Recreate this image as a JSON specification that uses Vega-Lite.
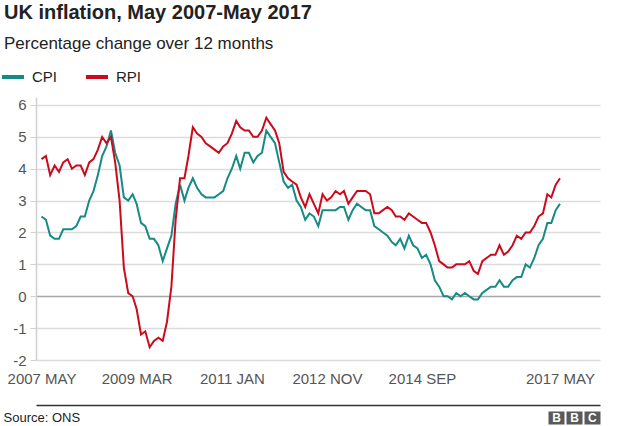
{
  "$schema": "https://vega.github.io/schema/vega-lite/v6.json",
  "autosize": "none",
  "padding": {"left": 36, "top": 97, "right": 24, "bottom": 66},
  "width": 564,
  "height": 263,
  "background": "white",
  "title": {
    "text": "UK inflation, May 2007-May 2017",
    "subtitle": "Percentage change over 12 months",
    "anchor": "start",
    "frame": "group",
    "dx": -32,
    "offset": 12,
    "fontSize": 20,
    "fontWeight": "bold",
    "color": "#222222",
    "subtitleFontSize": 17,
    "subtitleColor": "#222222",
    "subtitlePadding": 13
  },
  "data": {
    "values": [
      {"m": "2007-05-01", "CPI": 2.5, "RPI": 4.3},
      {"m": "2007-06-01", "CPI": 2.4, "RPI": 4.4},
      {"m": "2007-07-01", "CPI": 1.9, "RPI": 3.8},
      {"m": "2007-08-01", "CPI": 1.8, "RPI": 4.1},
      {"m": "2007-09-01", "CPI": 1.8, "RPI": 3.9},
      {"m": "2007-10-01", "CPI": 2.1, "RPI": 4.2},
      {"m": "2007-11-01", "CPI": 2.1, "RPI": 4.3},
      {"m": "2007-12-01", "CPI": 2.1, "RPI": 4.0},
      {"m": "2008-01-01", "CPI": 2.2, "RPI": 4.1},
      {"m": "2008-02-01", "CPI": 2.5, "RPI": 4.1},
      {"m": "2008-03-01", "CPI": 2.5, "RPI": 3.8},
      {"m": "2008-04-01", "CPI": 3.0, "RPI": 4.2},
      {"m": "2008-05-01", "CPI": 3.3, "RPI": 4.3},
      {"m": "2008-06-01", "CPI": 3.8, "RPI": 4.6},
      {"m": "2008-07-01", "CPI": 4.4, "RPI": 5.0},
      {"m": "2008-08-01", "CPI": 4.7, "RPI": 4.8},
      {"m": "2008-09-01", "CPI": 5.2, "RPI": 5.0},
      {"m": "2008-10-01", "CPI": 4.5, "RPI": 4.2},
      {"m": "2008-11-01", "CPI": 4.1, "RPI": 3.0},
      {"m": "2008-12-01", "CPI": 3.1, "RPI": 0.9},
      {"m": "2009-01-01", "CPI": 3.0, "RPI": 0.1},
      {"m": "2009-02-01", "CPI": 3.2, "RPI": 0.0},
      {"m": "2009-03-01", "CPI": 2.9, "RPI": -0.4},
      {"m": "2009-04-01", "CPI": 2.3, "RPI": -1.2},
      {"m": "2009-05-01", "CPI": 2.2, "RPI": -1.1},
      {"m": "2009-06-01", "CPI": 1.8, "RPI": -1.6},
      {"m": "2009-07-01", "CPI": 1.8, "RPI": -1.4},
      {"m": "2009-08-01", "CPI": 1.6, "RPI": -1.3},
      {"m": "2009-09-01", "CPI": 1.1, "RPI": -1.4},
      {"m": "2009-10-01", "CPI": 1.5, "RPI": -0.8},
      {"m": "2009-11-01", "CPI": 1.9, "RPI": 0.3},
      {"m": "2009-12-01", "CPI": 2.9, "RPI": 2.4},
      {"m": "2010-01-01", "CPI": 3.5, "RPI": 3.7},
      {"m": "2010-02-01", "CPI": 3.0, "RPI": 3.7},
      {"m": "2010-03-01", "CPI": 3.4, "RPI": 4.4},
      {"m": "2010-04-01", "CPI": 3.7, "RPI": 5.3},
      {"m": "2010-05-01", "CPI": 3.4, "RPI": 5.1},
      {"m": "2010-06-01", "CPI": 3.2, "RPI": 5.0},
      {"m": "2010-07-01", "CPI": 3.1, "RPI": 4.8},
      {"m": "2010-08-01", "CPI": 3.1, "RPI": 4.7},
      {"m": "2010-09-01", "CPI": 3.1, "RPI": 4.6},
      {"m": "2010-10-01", "CPI": 3.2, "RPI": 4.5},
      {"m": "2010-11-01", "CPI": 3.3, "RPI": 4.7},
      {"m": "2010-12-01", "CPI": 3.7, "RPI": 4.8},
      {"m": "2011-01-01", "CPI": 4.0, "RPI": 5.1},
      {"m": "2011-02-01", "CPI": 4.4, "RPI": 5.5},
      {"m": "2011-03-01", "CPI": 4.0, "RPI": 5.3},
      {"m": "2011-04-01", "CPI": 4.5, "RPI": 5.2},
      {"m": "2011-05-01", "CPI": 4.5, "RPI": 5.2},
      {"m": "2011-06-01", "CPI": 4.2, "RPI": 5.0},
      {"m": "2011-07-01", "CPI": 4.4, "RPI": 5.0},
      {"m": "2011-08-01", "CPI": 4.5, "RPI": 5.2},
      {"m": "2011-09-01", "CPI": 5.2, "RPI": 5.6},
      {"m": "2011-10-01", "CPI": 5.0, "RPI": 5.4},
      {"m": "2011-11-01", "CPI": 4.8, "RPI": 5.2},
      {"m": "2011-12-01", "CPI": 4.2, "RPI": 4.8},
      {"m": "2012-01-01", "CPI": 3.6, "RPI": 3.9},
      {"m": "2012-02-01", "CPI": 3.4, "RPI": 3.7},
      {"m": "2012-03-01", "CPI": 3.5, "RPI": 3.6},
      {"m": "2012-04-01", "CPI": 3.0, "RPI": 3.5},
      {"m": "2012-05-01", "CPI": 2.8, "RPI": 3.1},
      {"m": "2012-06-01", "CPI": 2.4, "RPI": 2.8},
      {"m": "2012-07-01", "CPI": 2.6, "RPI": 3.2},
      {"m": "2012-08-01", "CPI": 2.5, "RPI": 2.9},
      {"m": "2012-09-01", "CPI": 2.2, "RPI": 2.6},
      {"m": "2012-10-01", "CPI": 2.7, "RPI": 3.2},
      {"m": "2012-11-01", "CPI": 2.7, "RPI": 3.0},
      {"m": "2012-12-01", "CPI": 2.7, "RPI": 3.1},
      {"m": "2013-01-01", "CPI": 2.7, "RPI": 3.3},
      {"m": "2013-02-01", "CPI": 2.8, "RPI": 3.2},
      {"m": "2013-03-01", "CPI": 2.8, "RPI": 3.3},
      {"m": "2013-04-01", "CPI": 2.4, "RPI": 2.9},
      {"m": "2013-05-01", "CPI": 2.7, "RPI": 3.1},
      {"m": "2013-06-01", "CPI": 2.9, "RPI": 3.3},
      {"m": "2013-07-01", "CPI": 2.8, "RPI": 3.3},
      {"m": "2013-08-01", "CPI": 2.7, "RPI": 3.3},
      {"m": "2013-09-01", "CPI": 2.7, "RPI": 3.2},
      {"m": "2013-10-01", "CPI": 2.2, "RPI": 2.6},
      {"m": "2013-11-01", "CPI": 2.1, "RPI": 2.6},
      {"m": "2013-12-01", "CPI": 2.0, "RPI": 2.7},
      {"m": "2014-01-01", "CPI": 1.9, "RPI": 2.8},
      {"m": "2014-02-01", "CPI": 1.7, "RPI": 2.7},
      {"m": "2014-03-01", "CPI": 1.6, "RPI": 2.5},
      {"m": "2014-04-01", "CPI": 1.8, "RPI": 2.5},
      {"m": "2014-05-01", "CPI": 1.5, "RPI": 2.4},
      {"m": "2014-06-01", "CPI": 1.9, "RPI": 2.6},
      {"m": "2014-07-01", "CPI": 1.6, "RPI": 2.5},
      {"m": "2014-08-01", "CPI": 1.5, "RPI": 2.4},
      {"m": "2014-09-01", "CPI": 1.2, "RPI": 2.3},
      {"m": "2014-10-01", "CPI": 1.3, "RPI": 2.3},
      {"m": "2014-11-01", "CPI": 1.0, "RPI": 2.0},
      {"m": "2014-12-01", "CPI": 0.5, "RPI": 1.6},
      {"m": "2015-01-01", "CPI": 0.3, "RPI": 1.1},
      {"m": "2015-02-01", "CPI": 0.0, "RPI": 1.0},
      {"m": "2015-03-01", "CPI": 0.0, "RPI": 0.9},
      {"m": "2015-04-01", "CPI": -0.1, "RPI": 0.9},
      {"m": "2015-05-01", "CPI": 0.1, "RPI": 1.0},
      {"m": "2015-06-01", "CPI": 0.0, "RPI": 1.0},
      {"m": "2015-07-01", "CPI": 0.1, "RPI": 1.0},
      {"m": "2015-08-01", "CPI": 0.0, "RPI": 1.1},
      {"m": "2015-09-01", "CPI": -0.1, "RPI": 0.8},
      {"m": "2015-10-01", "CPI": -0.1, "RPI": 0.7},
      {"m": "2015-11-01", "CPI": 0.1, "RPI": 1.1},
      {"m": "2015-12-01", "CPI": 0.2, "RPI": 1.2},
      {"m": "2016-01-01", "CPI": 0.3, "RPI": 1.3},
      {"m": "2016-02-01", "CPI": 0.3, "RPI": 1.3},
      {"m": "2016-03-01", "CPI": 0.5, "RPI": 1.6},
      {"m": "2016-04-01", "CPI": 0.3, "RPI": 1.3},
      {"m": "2016-05-01", "CPI": 0.3, "RPI": 1.4},
      {"m": "2016-06-01", "CPI": 0.5, "RPI": 1.6},
      {"m": "2016-07-01", "CPI": 0.6, "RPI": 1.9},
      {"m": "2016-08-01", "CPI": 0.6, "RPI": 1.8},
      {"m": "2016-09-01", "CPI": 1.0, "RPI": 2.0},
      {"m": "2016-10-01", "CPI": 0.9, "RPI": 2.0},
      {"m": "2016-11-01", "CPI": 1.2, "RPI": 2.2},
      {"m": "2016-12-01", "CPI": 1.6, "RPI": 2.5},
      {"m": "2017-01-01", "CPI": 1.8, "RPI": 2.6},
      {"m": "2017-02-01", "CPI": 2.3, "RPI": 3.2},
      {"m": "2017-03-01", "CPI": 2.3, "RPI": 3.1},
      {"m": "2017-04-01", "CPI": 2.7, "RPI": 3.5},
      {"m": "2017-05-01", "CPI": 2.9, "RPI": 3.7}
    ]
  },
  "layer": [
    {
      "mark": {"type": "line", "strokeWidth": 2},
      "encoding": {
        "x": {
          "field": "m",
          "type": "temporal",
          "scale": {
            "type": "utc",
            "domain": [
              {"year": 2007, "month": "mar", "date": 23, "utc": true},
              {"year": 2018, "month": "feb", "date": 7, "utc": true}
            ]
          },
          "axis": {
            "orient": "bottom",
            "title": null,
            "domain": false,
            "ticks": false,
            "grid": false,
            "values": [
              {"year": 2007, "month": "may", "date": 1, "utc": true},
              {"year": 2009, "month": "mar", "date": 1, "utc": true},
              {"year": 2011, "month": "jan", "date": 1, "utc": true},
              {"year": 2012, "month": "nov", "date": 1, "utc": true},
              {"year": 2014, "month": "sep", "date": 1, "utc": true},
              {"year": 2017, "month": "may", "date": 1, "utc": true}
            ],
            "labelExpr": "upper(utcFormat(datum.value, '%Y %b'))",
            "labelFontSize": 15,
            "labelColor": "#555555",
            "labelPadding": 11,
            "labelFlush": false,
            "labelOverlap": false,
            "labelBound": false
          }
        },
        "y": {
          "field": "CPI",
          "type": "quantitative",
          "scale": {"domain": [-2, 6.25], "nice": false, "zero": false},
          "axis": {
            "title": null,
            "values": [-2, -1, 0, 1, 2, 3, 4, 5, 6],
            "labelExpr": "'' + datum.value",
            "grid": true,
            "gridColor": {"condition": {"test": "datum.value === 0", "value": "#a8a8a8"}, "value": "#dcdcdc"},
            "gridWidth": 1.5,
            "domainColor": "#d0d0d0",
            "domainWidth": 1.5,
            "tickColor": "#d0d0d0",
            "tickSize": 6,
            "labelFontSize": 15,
            "labelColor": "#555555",
            "labelPadding": 4
          }
        },
        "color": {
          "datum": "CPI",
          "scale": {"domain": ["CPI", "RPI"], "range": ["#168a84", "#cc0a1e"]},
          "legend": {
            "orient": "none",
            "legendX": -36,
            "legendY": -33,
            "direction": "horizontal",
            "title": null,
            "padding": 0,
            "symbolType": "stroke",
            "symbolSize": 484,
            "symbolStrokeWidth": 4,
            "labelFontSize": 15,
            "labelColor": "#222222",
            "labelOffset": 6,
            "columnPadding": 20
          }
        }
      }
    },
    {
      "mark": {"type": "line", "strokeWidth": 2},
      "encoding": {
        "x": {
          "field": "m",
          "type": "temporal",
          "axis": {
            "orient": "bottom",
            "offset": 45,
            "grid": false,
            "domain": true,
            "domainColor": "#333333",
            "domainWidth": 1.5,
            "values": [
              {"year": 2017, "month": "apr", "date": 3, "utc": true},
              {"year": 2017, "month": "aug", "date": 8, "utc": true},
              {"year": 2017, "month": "dec", "date": 12, "utc": true}
            ],
            "ticks": true,
            "tickSize": 19,
            "tickWidth": 16,
            "tickColor": "#5a5a5a",
            "tickCap": "butt",
            "tickDash": [0, 6, 13, 20],
            "labelExpr": "utcmonth(datum.value) == 11 ? 'C' : 'B'",
            "labelColor": "white",
            "labelFontWeight": "bold",
            "labelFontSize": 12,
            "labelBaseline": "middle",
            "labelPadding": -6.5,
            "labelFlush": false,
            "labelOverlap": false,
            "labelBound": false,
            "title": "Source: ONS",
            "titleX": -33,
            "titleY": 16,
            "titleAlign": "left",
            "titleBaseline": "alphabetic",
            "titleFontSize": 13,
            "titleFontWeight": "normal",
            "titleColor": "#222222"
          }
        },
        "y": {
          "field": "RPI",
          "type": "quantitative",
          "axis": {
            "title": null,
            "values": [-2, -1, 0, 1, 2, 3, 4, 5, 6],
            "labelExpr": "'' + datum.value",
            "grid": true,
            "gridColor": {"condition": {"test": "datum.value === 0", "value": "#a8a8a8"}, "value": "#dcdcdc"},
            "gridWidth": 1.5,
            "domainColor": "#d0d0d0",
            "domainWidth": 1.5,
            "tickColor": "#d0d0d0",
            "tickSize": 6,
            "labelFontSize": 15,
            "labelColor": "#555555",
            "labelPadding": 4
          }
        },
        "color": {"datum": "RPI"}
      }
    }
  ],
  "resolve": {"axis": {"x": "independent"}},
  "config": {
    "font": "Liberation Sans",
    "view": {"stroke": null}
  }
}
